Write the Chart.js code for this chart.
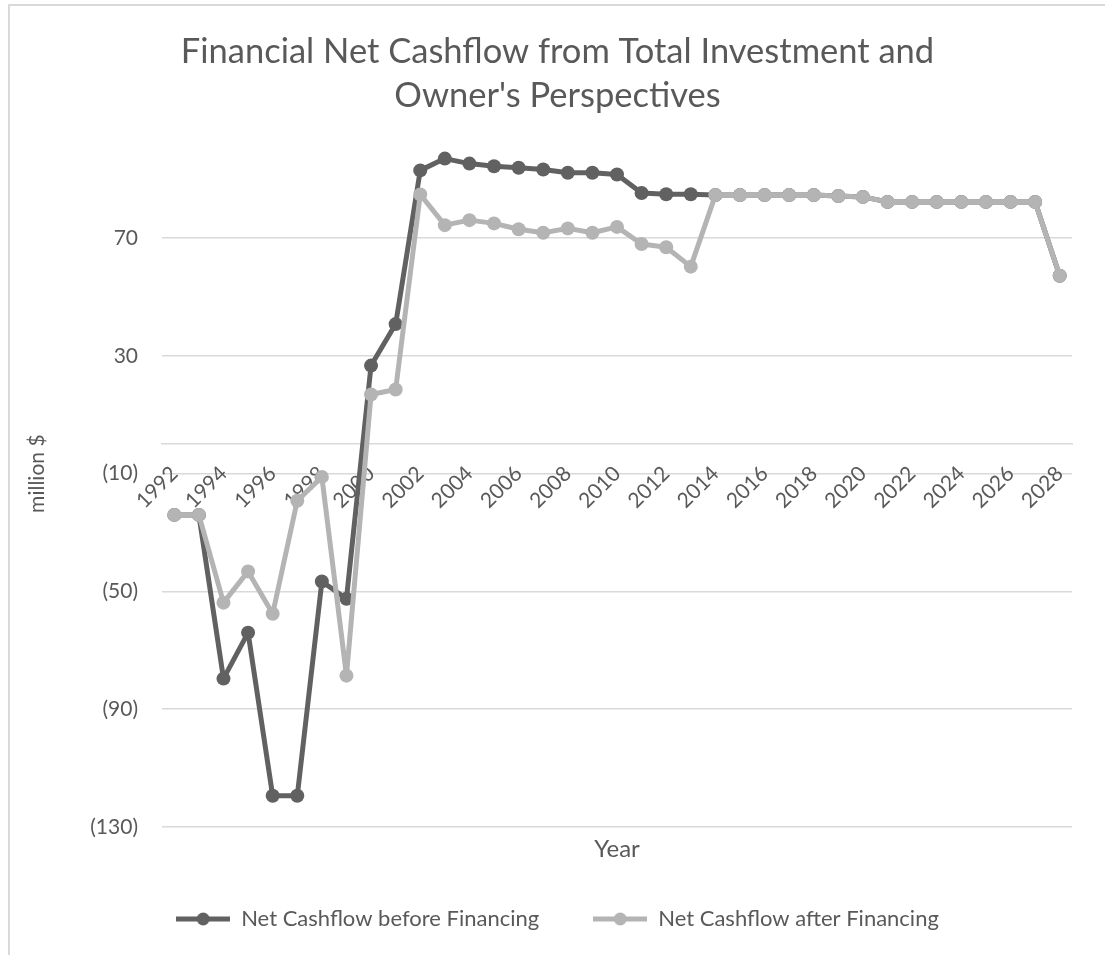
<!DOCTYPE html>
<html lang="en">
  <head>
    <meta charset="UTF-8" />
    <title>Financial Net Cashflow</title>
    <script src="https://cdn.jsdelivr.net/npm/chart.js"></script>
    <style>
      html, body { margin: 0; padding: 0; background: #fff; overflow: hidden; }
      #frame {
        position: fixed; left: 8px; top: 4px; width: 1200px; height: 1100px;
        border: 2px solid #d9d9d9; pointer-events: none;
      }
      canvas { position: fixed; left: 0; top: 0; }
    </style>
  </head>
  <body>
    <canvas id="cashflow" width="1105" height="955"></canvas>
    <div id="frame"></div>

    <script>
      // data
      const years = [
        "1992", "1993", "1994", "1995", "1996", "1997", "1998", "1999", "2000",
        "2001", "2002", "2003", "2004", "2005", "2006", "2007", "2008", "2009",
        "2010", "2011", "2012", "2013", "2014", "2015", "2016", "2017", "2018",
        "2019", "2020", "2021", "2022", "2023", "2024", "2025", "2026", "2027",
        "2028",
      ];
      const beforeFinancing = [
        -24, -24, -79.6, -64, -119.4, -119.4, -46.6, -52.5, 26.7,
        40.8, 93, 97, 95.3, 94.4, 93.9, 93.3, 92.2, 92.2,
        91.6, 85.3, 84.9, 84.9, 84.6, 84.6, 84.6, 84.6, 84.6,
        84.3, 84, 82.3, 82.3, 82.3, 82.3, 82.3, 82.3, 82.3,
        57.2,
      ];
      const afterFinancing = [
        -24, -24, -53.8, -43.2, -57.6, -19.2, -11.1, -78.6, 16.9,
        18.6, 84.8, 74.4, 76.1, 75, 73, 71.8, 73.3, 71.8,
        73.8, 68, 66.9, 60.3, 84.6, 84.6, 84.6, 84.6, 84.6,
        84.3, 84, 82.3, 82.3, 82.3, 82.3, 82.3, 82.3, 82.3,
        57.2,
      ];
      const yTicks = [-130, -90, -50, -10, 30, 70];

      const darkGray = "#616161";
      const lightGray = "#b4b4b4";
      const textGray = "#595959";
      const gridGray = "#d9d9d9";
      const fontFamily = "Lato, 'Open Sans', sans-serif";

      // legend marker: short line with a dot in the middle
      function legendMarker(color) {
        const c = document.createElement("canvas");
        c.width = 54;
        c.height = 16;
        const g = c.getContext("2d");
        g.strokeStyle = color;
        g.lineWidth = 5;
        g.beginPath();
        g.moveTo(0, 8);
        g.lineTo(54, 8);
        g.stroke();
        g.fillStyle = color;
        g.beginPath();
        g.arc(27, 8, 6.5, 0, Math.PI * 2);
        g.fill();
        return c;
      }
      const markers = [legendMarker(darkGray), legendMarker(lightGray)];

      const accounting = (v) => (v < 0 ? `(${-v})` : `${v}`);

      const seriesStyle = (color) => ({
        borderColor: color,
        backgroundColor: color,
        borderWidth: 5,
        borderJoinStyle: "round",
        borderCapStyle: "round",
        pointRadius: 7,
        pointBorderWidth: 0,
        pointBackgroundColor: color,
      });

      new Chart(document.getElementById("cashflow"), {
        type: "line",
        data: {
          labels: years,
          datasets: [
            {
              label: "Net Cashflow before Financing",
              data: beforeFinancing,
              ...seriesStyle(darkGray),
              order: 2,
            },
            {
              label: "Net Cashflow after Financing",
              data: afterFinancing,
              ...seriesStyle(lightGray),
              order: 1,
            },
          ],
        },
        options: {
          responsive: false,
          animation: false,
          devicePixelRatio: 1,
          layout: { padding: { left: 10, right: 0, top: 0, bottom: 15 } },
          scales: {
            x: {
              type: "category",
              position: { y: 0 },
              offset: true,
              grid: { display: false, drawTicks: false },
              border: { display: true, color: gridGray, width: 1.5 },
              ticks: {
                autoSkip: false,
                minRotation: 45,
                maxRotation: 45,
                padding: 17,
                color: textGray,
                font: { family: fontFamily, size: 21 },
                callback: (v, i) => (i % 2 === 0 ? years[i] : ""),
              },
            },
            xTitle: {
              type: "category",
              position: "bottom",
              offset: true,
              grid: { display: false },
              border: { display: false },
              ticks: { display: false },
              title: {
                display: true,
                text: "Year",
                color: textGray,
                font: { family: fontFamily, size: 24 },
                padding: { top: 0, bottom: -10 },
              },
              afterFit: (s) => { s.height = 27; },
            },
            y: {
              min: -130,
              max: 110,
              grid: { color: gridGray, lineWidth: 1.5, drawTicks: false },
              border: { display: false },
              afterBuildTicks: (s) => { s.ticks = yTicks.map((v) => ({ value: v })); },
              ticks: {
                padding: 24,
                color: textGray,
                font: { family: fontFamily, size: 21 },
                callback: (v) => accounting(v),
              },
              title: {
                display: true,
                text: "million $",
                color: textGray,
                font: { family: fontFamily, size: 21 },
                padding: { top: 15, bottom: 0 },
              },
              afterFit: (s) => { s.width = 152; },
            },
            yRight: {
              position: "right",
              grid: { display: false },
              border: { display: false },
              ticks: { display: false },
              afterFit: (s) => { s.width = 33; },
            },
          },
          plugins: {
            title: {
              display: true,
              text: ["Financial Net Cashflow from Total Investment and", "Owner's Perspectives"],
              color: textGray,
              font: { family: fontFamily, size: 34.5, weight: "normal", lineHeight: 1.28 },
              padding: { top: 30, bottom: 2 },
            },
            legend: {
              position: "bottom",
              labels: {
                usePointStyle: true,
                pointStyleWidth: 54,
                boxHeight: 16,
                padding: 54,
                color: textGray,
                font: { family: fontFamily, size: 22 },
                sort: (a, b) => a.datasetIndex - b.datasetIndex,
                generateLabels: (chart) =>
                  Chart.defaults.plugins.legend.labels.generateLabels(chart).map((item) => ({
                    ...item,
                    pointStyle: markers[item.datasetIndex],
                  })),
              },
            },
            tooltip: { enabled: false },
          },
        },
      });
    </script>
  </body>
</html>
